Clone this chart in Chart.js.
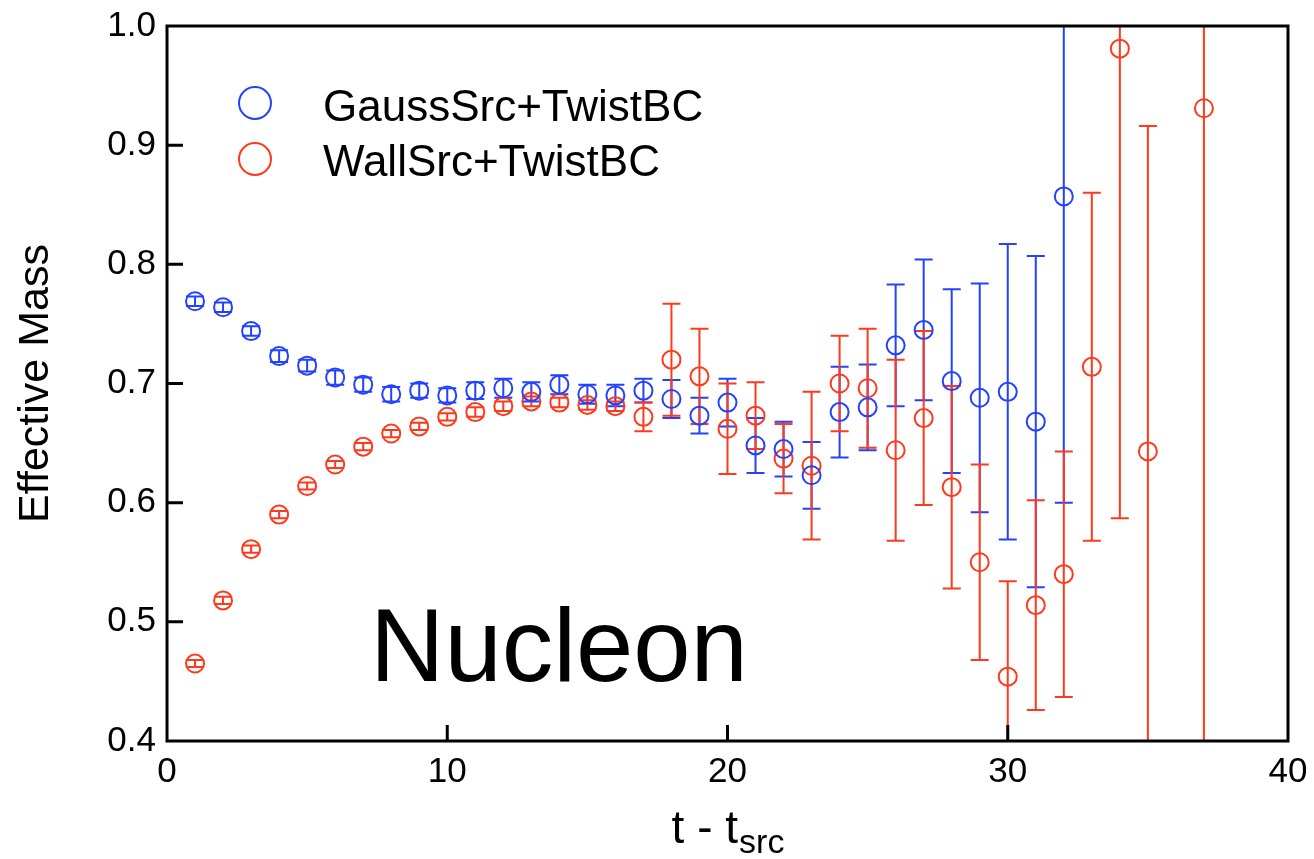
<!DOCTYPE html>
<html>
<head>
<meta charset="utf-8">
<title>Nucleon effective mass</title>
<script src="https://cdn.jsdelivr.net/npm/chart.js@4.4.1/dist/chart.umd.min.js"></script>
<style>
    html, body { margin: 0; padding: 0; background: #fff; }
    #wrap { width: 1314px; height: 859px; }
</style>
</head>
<body>
<div id="wrap"><canvas id="massChart"></canvas></div>
<script>
// Data
const gaussT    = [1, 2, 3, 4, 5, 6, 7, 8, 9, 10, 11, 12, 13, 14, 15, 16, 17, 18, 19, 20, 21, 22, 23, 24, 25, 26, 27, 28, 29, 30, 31, 32];
const gaussMass = [0.769, 0.764, 0.744, 0.723, 0.715, 0.705, 0.699, 0.691, 0.694, 0.690, 0.694, 0.696, 0.693, 0.699, 0.691, 0.690,
                   0.694, 0.687, 0.673, 0.684, 0.648, 0.645, 0.623, 0.676, 0.680, 0.732, 0.745, 0.702, 0.688, 0.693, 0.668, 0.857];
const gaussErr  = [0.004, 0.004, 0.004, 0.005, 0.005, 0.006, 0.006, 0.006, 0.006, 0.006, 0.007, 0.008, 0.008, 0.008, 0.008, 0.009,
                   0.010, 0.016, 0.015, 0.020, 0.023, 0.023, 0.028, 0.038, 0.036, 0.051, 0.059, 0.077, 0.096, 0.124, 0.139, 0.257];

const wallT    = [1, 2, 3, 4, 5, 6, 7, 8, 9, 10, 11, 12, 13, 14, 15, 16, 17, 18, 19, 20, 21, 22, 23, 24, 25, 26, 27, 28, 29, 30, 31, 32, 33, 34, 35, 37];
const wallMass = [0.465, 0.518, 0.561, 0.590, 0.614, 0.632, 0.647, 0.658, 0.664, 0.672, 0.676, 0.681, 0.685, 0.684, 0.682, 0.681,
                  0.672, 0.720, 0.706, 0.662, 0.673, 0.637, 0.631, 0.700, 0.696, 0.644, 0.671, 0.613, 0.550, 0.454, 0.514, 0.540,
                  0.714, 0.981, 0.643, 0.931];
const wallErr  = [0.003, 0.003, 0.003, 0.003, 0.003, 0.003, 0.003, 0.003, 0.003, 0.003, 0.004, 0.004, 0.004, 0.004, 0.004, 0.004,
                  0.012, 0.047, 0.040, 0.038, 0.028, 0.029, 0.062, 0.040, 0.050, 0.076, 0.073, 0.085, 0.082, 0.080, 0.088, 0.103,
                  0.146, 0.394, 0.273, 0.600];

const xTicks = [0, 10, 20, 30, 40];
const yTicks = [0.4, 0.5, 0.6, 0.7, 0.8, 0.9, 1.0];

const BLUE = '#2342ff';
const RED = '#ff3a1c';
const FONT = '"Liberation Sans", Arial, sans-serif';

function toPoints(ts, vals, errs) {
    return ts.map((t, i) => ({ x: t, y: vals[i], err: errs[i] }));
}

// error bars, frame, inward ticks, tick labels, titles, legend and the big label
const decorations = {
    id: 'decorations',
    beforeDatasetsDraw(chart) {
        const { ctx, chartArea: a, scales: { x, y } } = chart;
        ctx.save();
        ctx.beginPath();
        ctx.rect(a.left, a.top, a.right - a.left, a.bottom - a.top);
        ctx.clip();
        chart.data.datasets.forEach(ds => {
            ctx.strokeStyle = ds.borderColor;
            ctx.lineWidth = 2;
            ds.data.forEach(p => {
                const px = x.getPixelForValue(p.x);
                const top = y.getPixelForValue(p.y + p.err);
                const bot = y.getPixelForValue(p.y - p.err);
                ctx.beginPath();
                ctx.moveTo(px, top); ctx.lineTo(px, bot);
                ctx.moveTo(px - 9, top); ctx.lineTo(px + 9, top);
                ctx.moveTo(px - 9, bot); ctx.lineTo(px + 9, bot);
                ctx.stroke();
            });
        });
        ctx.restore();
    },
    afterDraw(chart) {
        const { ctx, chartArea: a, scales: { x, y } } = chart;
        ctx.save();

        // frame
        ctx.strokeStyle = '#000';
        ctx.lineWidth = 3;
        ctx.strokeRect(a.left, a.top, a.right - a.left, a.bottom - a.top);

        // inward tick marks
        ctx.beginPath();
        yTicks.slice(1, -1).forEach(v => {
            const py = y.getPixelForValue(v);
            ctx.moveTo(a.left, py); ctx.lineTo(a.left + 16, py);
        });
        xTicks.slice(1, -1).forEach(v => {
            const px = x.getPixelForValue(v);
            ctx.moveTo(px, a.bottom); ctx.lineTo(px, a.bottom - 16);
        });
        ctx.stroke();

        ctx.fillStyle = '#000';

        // tick labels
        ctx.font = '35px ' + FONT;
        ctx.textAlign = 'right';
        ctx.textBaseline = 'middle';
        yTicks.forEach(v => ctx.fillText(v.toFixed(1), a.left - 11, y.getPixelForValue(v)));
        ctx.textAlign = 'center';
        ctx.textBaseline = 'top';
        xTicks.forEach(v => ctx.fillText(String(v), x.getPixelForValue(v), a.bottom + 14));

        // y title
        ctx.save();
        ctx.translate(36, (a.top + a.bottom) / 2);
        ctx.rotate(-Math.PI / 2);
        ctx.font = '43px ' + FONT;
        ctx.textAlign = 'center';
        ctx.textBaseline = 'middle';
        ctx.fillText('Effective Mass', 0, 0);
        ctx.restore();

        // x title with subscript
        ctx.textBaseline = 'alphabetic';
        ctx.textAlign = 'left';
        ctx.font = '46px ' + FONT;
        const main = 't - t';
        const wMain = ctx.measureText(main).width;
        ctx.font = '34px ' + FONT;
        const wSub = ctx.measureText('src').width;
        const startX = (a.left + a.right) / 2 - (wMain + wSub) / 2;
        ctx.font = '46px ' + FONT;
        ctx.fillText(main, startX, 843);
        ctx.font = '34px ' + FONT;
        ctx.fillText('src', startX + wMain + 1, 853);

        // big label
        ctx.font = '103px ' + FONT;
        ctx.fillText('Nucleon', 370, 681);

        // legend
        ctx.font = '44px ' + FONT;
        const rows = [[103, 121], [159, 176]];
        chart.data.datasets.forEach((ds, i) => {
            ctx.strokeStyle = ds.borderColor;
            ctx.lineWidth = 2;
            ctx.beginPath();
            ctx.arc(255, rows[i][0], 16, 0, Math.PI * 2);
            ctx.stroke();
            ctx.fillStyle = '#000';
            ctx.fillText(ds.label, 323, rows[i][1]);
        });

        ctx.restore();
    }
};

const ctx = document.getElementById('massChart').getContext('2d');
const massChart = new Chart(ctx, {
    type: 'scatter',
    data: {
        datasets: [
            {
                label: 'GaussSrc+TwistBC',
                data: toPoints(gaussT, gaussMass, gaussErr),
                borderColor: BLUE,
                pointBorderColor: BLUE,
                pointBackgroundColor: 'rgba(0,0,0,0)',
                pointRadius: 9,
                pointBorderWidth: 2,
                showLine: false
            },
            {
                label: 'WallSrc+TwistBC',
                data: toPoints(wallT, wallMass, wallErr),
                borderColor: RED,
                pointBorderColor: RED,
                pointBackgroundColor: 'rgba(0,0,0,0)',
                pointRadius: 9,
                pointBorderWidth: 2,
                showLine: false
            }
        ]
    },
    options: {
        responsive: true,
        maintainAspectRatio: false,
        animation: false,
        layout: { padding: { top: 26, right: 26, left: 0, bottom: 0 } },
        plugins: {
            legend: { display: false },
            tooltip: { enabled: false }
        },
        scales: {
            x: {
                type: 'linear',
                min: xTicks[0],
                max: xTicks[xTicks.length - 1],
                afterFit(scale) { scale.height = 118; },
                grid: { display: false },
                border: { display: false },
                ticks: { display: false }
            },
            y: {
                type: 'linear',
                min: yTicks[0],
                max: yTicks[yTicks.length - 1],
                afterFit(scale) { scale.width = 167; },
                grid: { display: false },
                border: { display: false },
                ticks: { display: false }
            }
        }
    },
    plugins: [decorations]
});
</script>
</body>
</html>
